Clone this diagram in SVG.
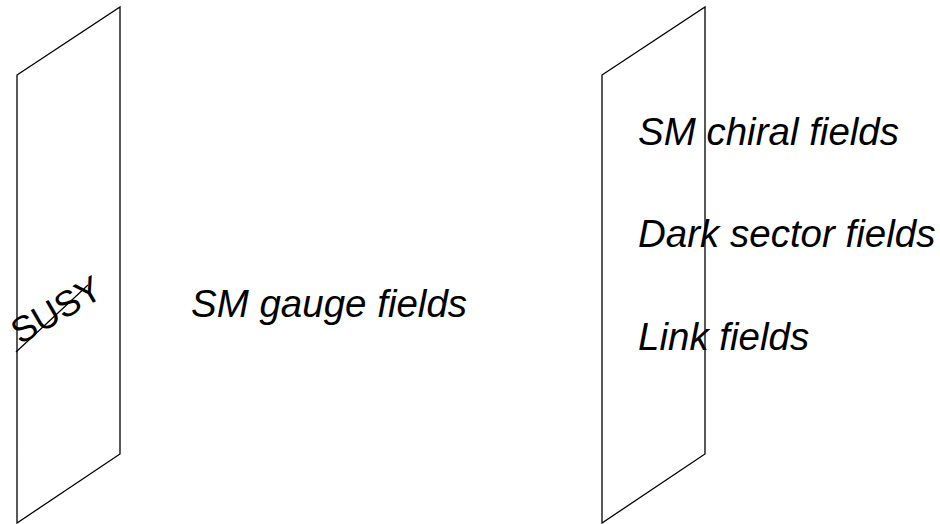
<svg xmlns="http://www.w3.org/2000/svg" width="940" height="524" viewBox="0 0 940 524">
<style>
.plane{fill:none;stroke:#000;stroke-width:1.3;stroke-linejoin:miter}
.lbl{font-family:"Liberation Sans",Arial,sans-serif;font-size:38.5px;font-style:italic;fill:#000}
.susy{font-family:"Liberation Sans",Arial,sans-serif;font-size:36px;fill:#000}
</style>
<rect width="940" height="524" fill="#fff"/>
<g id="left-plane">
<polygon class="plane" points="17,75 120,7 120,454 17,523"/>
<text class="susy" transform="translate(20,345) rotate(-30)">SUSY</text>
<line class="plane" x1="16" y1="352" x2="88" y2="285"/>
</g>
<g id="gauge">
<text class="lbl" x="191" y="317">SM gauge fields</text>
</g>
<g id="right-plane">
<polygon class="plane" points="602,75 705,7 705,454 602,523"/>
</g>
<g id="chiral"><text class="lbl" x="638" y="145">SM chiral fields</text></g>
<g id="dark"><text class="lbl" x="638" y="247">Dark sector fields</text></g>
<g id="link"><text class="lbl" x="638" y="350">Link fields</text></g>
<g id="connectors"/>
</svg>
